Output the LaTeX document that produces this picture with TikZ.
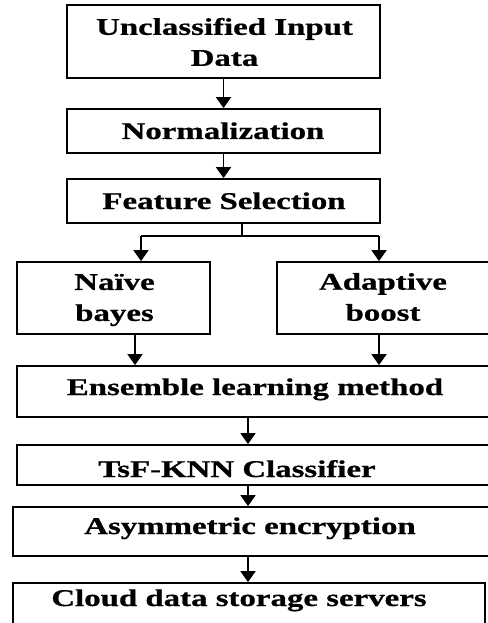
\documentclass[tikz,border=0pt]{standalone}
\usepackage{fontspec}
\setmainfont{Liberation Serif}[BoldFeatures={FakeBold=0.6}]
\usetikzlibrary{arrows.meta}
\newcommand{\wtxt}[1]{\scalebox{1.37}[1]{#1}}
\tikzset{
  box/.style={draw=black, line width=1.8pt, rectangle, inner sep=0pt},
  lbl/.style={font=\fontsize{24}{31}\selectfont\bfseries, align=center, inner sep=0pt},
  arr/.style={line width=1.8pt, -{Triangle[width=15pt,length=11pt]}},
  ln/.style={line width=1.8pt}
}
\begin{document}
\begin{tikzpicture}[x=1pt,y=-1pt]
\useasboundingbox (0,0) rectangle (487,623);
% boxes
\node[box, minimum width=313pt, minimum height=73pt] (b1) at (223.5,41.5) {};
\node[box, minimum width=313pt, minimum height=44pt] (b2) at (223.5,131) {};
\node[box, minimum width=313pt, minimum height=44pt] (b3) at (223.5,201) {};
\node[box, minimum width=193pt, minimum height=72pt] (nb) at (113.5,298) {};
\node[box, minimum width=220pt, minimum height=72pt] (ad) at (387,298) {};
\node[box, minimum width=480pt, minimum height=51pt] (ens) at (257,391.5) {};
\node[box, minimum width=480pt, minimum height=40pt] (tsf) at (257,465) {};
\node[box, minimum width=484pt, minimum height=49pt] (asym) at (255,531.5) {};
\node[box, minimum width=472pt, minimum height=57pt] (cloud) at (249,611.5) {};
% texts
\node[lbl] (t1) at (224.5,42) {\wtxt{Unclassified Input}\\\wtxt{Data}};
\node[lbl, anchor=base] (t2) at (223,139) {\wtxt{Normalization}};
\node[lbl, anchor=base] (t3) at (224,209) {\wtxt{Feature Selection}};
\node[lbl] (t4) at (114.5,300) {\wtxt{Naïve}\\\wtxt{bayes}};
\node[lbl] (t5) at (383,297) {\wtxt{Adaptive}\\\wtxt{boost}};
\node[lbl, anchor=base] (t6) at (255,395) {\wtxt{Ensemble learning method}};
\node[lbl, anchor=base] (t7) at (237,477) {\wtxt{TsF-KNN Classifier}};
\node[lbl, anchor=base] (t8) at (250,534) {\wtxt{Asymmetric encryption}};
\node[lbl, anchor=base] (t9) at (239,606) {\wtxt{Cloud data storage servers}};
% connectors
\draw[arr] (b1.south) -- (b2.north);
\draw[arr] (b2.south) -- (b3.north);
\coordinate (sm) at (242,236);
\coordinate (sl) at (141,236);
\coordinate (sr) at (379,236);
\draw[ln] (b3.south -| sm) -- (sm);
\draw[ln] (sl) -- (sr);
\draw[arr] (sl) -- (sl |- nb.north);
\draw[arr] (sr) -- (sr |- ad.north);
\coordinate (na) at (135,334);
\draw[arr] (nb.south -| na) -- (na |- ens.north);
\draw[arr] (ad.south -| sr) -- (sr |- ens.north);
\coordinate (mx) at (248,0);
\draw[arr] (ens.south -| mx) -- (mx |- tsf.north);
\draw[arr] (tsf.south -| mx) -- (mx |- asym.north);
\draw[arr] (asym.south -| mx) -- (mx |- cloud.north);
\end{tikzpicture}
\end{document}
